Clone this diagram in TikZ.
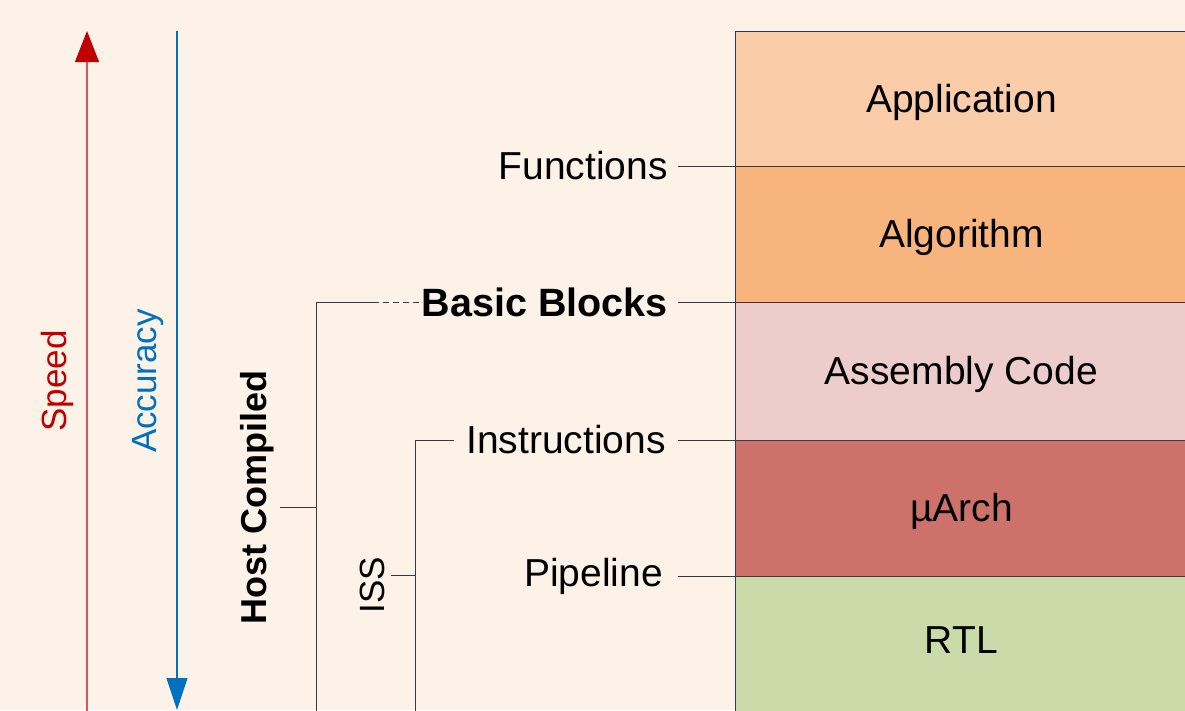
\documentclass[tikz,border=0pt]{standalone}
\usepackage{fontspec}
\setmainfont{Liberation Sans}
\usetikzlibrary{arrows.meta,calc}
\definecolor{bg}{HTML}{FDF2E8}
\definecolor{appc}{HTML}{FBCCA8}
\definecolor{algc}{HTML}{F8B47D}
\definecolor{asmc}{HTML}{EDCDCB}
\definecolor{uarc}{HTML}{CD716B}
\definecolor{rtlc}{HTML}{CBDAA9}
\definecolor{linec}{HTML}{3A3A3A}
\definecolor{speedred}{HTML}{C00000}
\definecolor{speedline}{HTML}{D45A5A}
\definecolor{accblue}{HTML}{0070C0}
\begin{document}
\begin{tikzpicture}[x=1pt,y=-1pt,
  layer/.style={draw=linec, line width=0.9pt, minimum width=452pt, anchor=north west, inner sep=0pt, text depth=2pt, font=\fontsize{39}{39}\selectfont},
  lvl/.style={anchor=east, inner sep=0pt, font=\fontsize{39}{39}\selectfont},
  conn/.style={draw=linec, line width=0.9pt},
  axislabel/.style={rotate=90, inner sep=0pt, font=\fontsize{35}{35}\selectfont},
]
\useasboundingbox[fill=bg] (0,0) rectangle (1185,710);

% layer stack
\node[layer, fill=appc, minimum height=135pt] (app) at (735,31) {Application};
\node[layer, fill=algc, minimum height=136pt] (alg) at (735,166) {Algorithm};
\node[layer, fill=asmc, minimum height=138pt] (asm) at (735,302) {Assembly Code};
\node[layer, fill=uarc, minimum height=136pt] (uar) at (735,440) {µArch};
\node[layer, fill=rtlc, minimum height=142pt, text depth=14pt] (rtl) at (735,576) {RTL};

% level labels
\node[lvl] (fn) at (668,166) {Functions};
\node[lvl, font=\fontsize{39.5}{39.5}\selectfont\bfseries] (bb) at (668,302) {Basic Blocks};
\node[lvl] (ins) at (666,440) {Instructions};
\node[lvl] (pip) at (663,576) {Pipeline};

\draw[conn] ([xshift=10pt]fn.east) -- (alg.north west);
\draw[conn] ([xshift=10pt]bb.east) -- (asm.north west);
\draw[conn] ([xshift=12pt]ins.east) -- (uar.north west);
\draw[conn] ([xshift=15pt]pip.east) -- (rtl.north west);

% speed / accuracy axes
\coordinate (sbot) at (87,712);
\coordinate (stop) at (87,31);
\draw[draw=speedline, line width=1.1pt, -{Triangle[length=31pt,width=24pt,color=speedred,fill=speedred]}] (sbot) -- (stop);
\node[axislabel, text=speedred] (speed) at (57,381) {Speed};

\coordinate (atop) at (177,31);
\coordinate (abot) at (177,710);
\draw[draw=accblue, line width=1.1pt, -{Triangle[length=32pt,width=21pt,color=accblue,fill=accblue]}] (atop) -- (abot);
\node[axislabel, text=accblue] (acc) at (148,381) {Accuracy};

% host compiled bracket
\node[axislabel, font=\fontsize{36}{36}\selectfont\bfseries] (host) at (257,497) {Host Compiled};
\coordinate (hbot) at (316,712);
\coordinate (hcor) at (316,302);
\coordinate (hdash) at (373,302);
\coordinate (htick) at (280,507);
\coordinate (hjoin) at (316,507);
\draw[conn] (hbot) -- (hcor) -- (hdash);
\draw[conn, dash pattern=on 6pt off 4pt] (hdash) -- (bb.west);
\draw[conn] (htick) -- (hjoin);

% ISS bracket
\node[axislabel] (iss) at (372,585) {ISS};
\coordinate (ibot) at (415,712);
\coordinate (icor) at (415,440);
\coordinate (itick) at (391,575);
\coordinate (ijoin) at (415,575);
\draw[conn] (ibot) -- (icor) -- ([xshift=-12pt]ins.west);
\draw[conn] (itick) -- (ijoin);
\end{tikzpicture}
\end{document}
